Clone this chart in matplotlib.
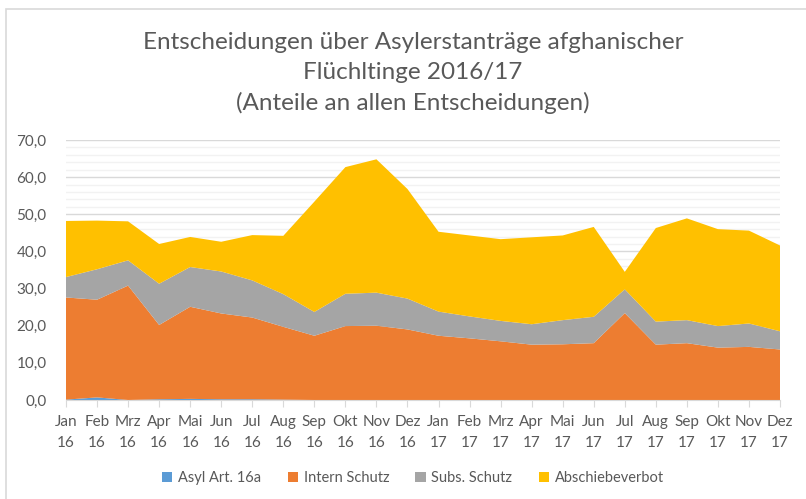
import numpy as np
import matplotlib.pyplot as plt
from matplotlib.patches import Patch, Rectangle
from matplotlib.ticker import MultipleLocator, FuncFormatter

plt.rcParams['font.family'] = ['Lato', 'DejaVu Sans']

months = ['Jan', 'Feb', 'Mrz', 'Apr', 'Mai', 'Jun', 'Jul', 'Aug', 'Sep', 'Okt', 'Nov', 'Dez']
labels = [m + '\n16' for m in months] + [m + '\n17' for m in months]

asyl = [0.1, 0.7, 0.0, 0.2, 0.3, 0.2, 0.2, 0.1, 0.0, 0.0, 0.0, 0.0,
        0.0, 0.0, 0.0, 0.0, 0.0, 0.0, 0.0, 0.0, 0.0, 0.0, 0.0, 0.0]
intern = [27.5, 26.3, 30.8, 20.0, 24.8, 23.1, 22.0, 19.6, 17.3, 19.9, 20.0, 19.0,
          17.3, 16.6, 15.8, 14.9, 15.0, 15.3, 23.4, 14.9, 15.3, 14.1, 14.3, 13.6]
subs = [5.5, 8.2, 6.8, 11.1, 10.7, 11.3, 10.0, 8.8, 6.4, 8.7, 8.9, 8.3,
        6.5, 5.9, 5.5, 5.5, 6.5, 7.1, 6.4, 6.2, 6.2, 5.8, 6.3, 4.9]
abschiebe = [15.1, 13.1, 10.5, 10.7, 8.1, 8.0, 12.2, 15.7, 29.7, 34.1, 35.9, 29.5,
             21.5, 21.8, 22.0, 23.4, 22.8, 24.2, 4.7, 25.2, 27.4, 26.1, 25.0, 23.1]

series = ['Asyl Art. 16a', 'Intern Schutz', 'Subs. Schutz', 'Abschiebeverbot']
colors = ['#5B9BD5', '#ED7D31', '#A5A5A5', '#FFC000']
txt = '#595959'

fig = plt.figure(figsize=(8.06, 4.99), dpi=100)
fig.patches.append(Rectangle((6 / 806, -0.1), 1.2, 1 - 9.5 / 499 + 0.1,
                             transform=fig.transFigure, fill=False,
                             edgecolor='#d9d9d9', linewidth=1.2))
ax = fig.add_axes([66 / 806, 1 - 400 / 499, (780 - 66) / 806, 260 / 499])

x = np.arange(len(labels))
ax.stackplot(x, asyl, intern, subs, abschiebe, colors=colors, linewidth=0)

ax.set_xlim(0, len(labels) - 1)
ax.set_ylim(0, 70)
ax.yaxis.set_major_locator(MultipleLocator(10))
ax.yaxis.set_minor_locator(MultipleLocator(2))
ax.yaxis.set_major_formatter(FuncFormatter(lambda v, p: f'{v:.1f}'.replace('.', ',')))
ax.grid(axis='y', which='major', color='#d9d9d9', linewidth=1)
ax.grid(axis='y', which='minor', color='#f2f2f2', linewidth=1)
ax.set_axisbelow(True)

ax.set_xticks(x)
ax.set_xticklabels(labels, fontsize=11, color=txt, linespacing=1.6)
ax.tick_params(axis='x', direction='out', length=5, color='#d9d9d9', pad=6)
ax.tick_params(axis='y', which='both', length=0, labelsize=11, labelcolor=txt, pad=14)
for s in ['top', 'right', 'left']:
    ax.spines[s].set_visible(False)
ax.spines['bottom'].set_color('#d9d9d9')

fig.text(413 / 806, 1 - 73 / 499,
         'Entscheidungen über Asylerstanträge afghanischer\nFlüchltinge 2016/17\n(Anteile an allen Entscheidungen)',
         ha='center', va='center', fontsize=17.5, color=txt, linespacing=1.5)

handles = [Patch(facecolor=c, edgecolor='none') for c in colors]
fig.legend(handles, series, loc='center', bbox_to_anchor=(413 / 806, 1 - 478 / 499),
           ncol=4, frameon=False, fontsize=10.5, labelcolor=txt,
           handlelength=0.7, handleheight=0.7, handletextpad=0.4, columnspacing=1.8)

fig.savefig('out.png', dpi=100)
